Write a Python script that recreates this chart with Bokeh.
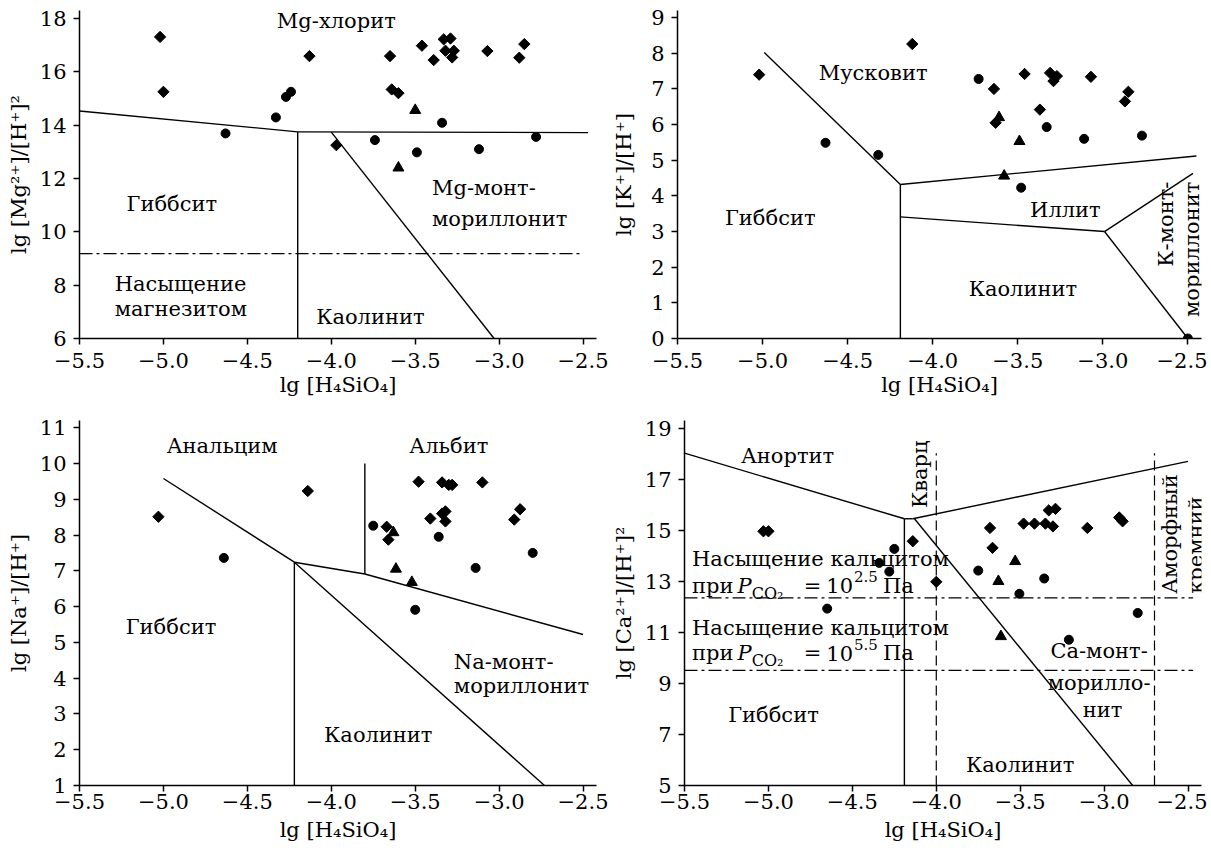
import math
from bokeh.plotting import figure
from bokeh.layouts import column, row
from bokeh.models import Range1d, FixedTicker, CustomJSTickFormatter, Label
from bokeh.embed import file_html
from bokeh.resources import INLINE

FONT = "DejaVu Serif"
FS = "21px"
X_TICKS = [-5.5, -5.0, -4.5, -4.0, -3.5, -3.0, -2.5]
X_LABEL = "lg [H₄SiO₄]"

# ---------------- Panel 1: Mg ----------------
mg_y_ticks = [6, 8, 10, 12, 14, 16, 18]
mg_dia_x = [-5.02, -5.00, -4.13, -3.65, -3.46, -3.39, -3.33, -3.29, -3.32, -3.27, -3.28, -3.07, -2.85, -2.88, -3.64, -3.60, -3.97]
mg_dia_y = [17.31, 15.25, 16.59, 16.59, 16.98, 16.44, 17.22, 17.25, 16.79, 16.79, 16.54, 16.78, 17.04, 16.53, 15.34, 15.20, 13.25]
mg_cir_x = [-4.63, -4.33, -4.27, -4.24, -3.34, -3.74, -3.49, -3.12, -2.78]
mg_cir_y = [13.69, 14.29, 15.06, 15.25, 14.09, 13.44, 12.98, 13.10, 13.56]
mg_tri_x = [-3.50, -3.60]
mg_tri_y = [14.56, 12.40]
mg_lines = [
    ([-5.5, -4.2], [14.53, 13.75]),
    ([-4.2, -2.47], [13.75, 13.72]),
    ([-4.2, -4.2], [6.0, 13.75]),
    ([-4.0, -3.03], [13.74, 6.0]),
]
mg_dashdot_y = [9.18]

# ---------------- Panel 2: K ----------------
k_y_ticks = [0, 1, 2, 3, 4, 5, 6, 7, 8, 9]
k_dia_x = [-5.02, -4.12, -3.64, -3.46, -3.31, -3.27, -3.29, -3.07, -2.85, -2.87, -3.37, -3.63]
k_dia_y = [7.40, 8.26, 7.00, 7.42, 7.45, 7.36, 7.22, 7.34, 6.92, 6.65, 6.42, 6.05]
k_cir_x = [-4.63, -4.32, -3.73, -3.33, -3.11, -2.77, -3.48, -2.50]
k_cir_y = [5.49, 5.15, 7.28, 5.93, 5.60, 5.69, 4.23, 0.00]
k_tri_x = [-3.61, -3.49, -3.58]
k_tri_y = [6.20, 5.53, 4.56]
k_lines = [
    ([-4.99, -4.19], [8.02, 4.32]),
    ([-4.19, -2.45], [4.32, 5.12]),
    ([-4.19, -4.19], [0.0, 4.32]),
    ([-4.19, -2.99], [3.41, 3.00]),
    ([-2.99, -2.47], [3.00, 4.63]),
    ([-2.99, -2.50], [3.00, 0.00]),
]

# ---------------- Panel 3: Na ----------------
na_y_ticks = [1, 2, 3, 4, 5, 6, 7, 8, 9, 10, 11]
na_dia_x = [-5.03, -4.14, -3.67, -3.66, -3.48, -3.41, -3.34, -3.30, -3.28, -3.34, -3.32, -3.32, -3.10, -2.91, -2.875]
na_dia_y = [8.51, 9.23, 8.23, 7.87, 9.49, 8.46, 9.47, 9.40, 9.40, 8.60, 8.66, 8.38, 9.47, 8.43, 8.72]
na_cir_x = [-4.64, -3.75, -3.36, -2.80, -3.14, -3.50]
na_cir_y = [7.36, 8.26, 7.95, 7.50, 7.08, 5.91]
na_tri_x = [-3.63, -3.615, -3.52]
na_tri_y = [8.07, 7.05, 6.68]
na_lines = [
    ([-5.0, -4.22], [9.58, 7.24]),
    ([-4.22, -4.22], [1.0, 7.24]),
    ([-4.22, -3.80], [7.24, 6.91]),
    ([-3.80, -3.80], [6.91, 10.0]),
    ([-3.80, -2.50], [6.91, 5.22]),
    ([-4.22, -2.73], [7.24, 1.0]),
]

# ---------------- Panel 4: Ca ----------------
ca_y_ticks = [5, 7, 9, 11, 13, 15, 17, 19]
ca_dia_x = [-5.03, -5.00, -4.14, -4.00, -3.68, -3.665, -3.48, -3.415, -3.35, -3.33, -3.29, -3.305, -3.10, -2.91, -2.89]
ca_dia_y = [14.96, 14.96, 14.57, 12.98, 15.09, 14.31, 15.26, 15.26, 15.26, 15.78, 15.84, 15.15, 15.09, 15.50, 15.35]
ca_cir_x = [-4.65, -4.34, -4.28, -4.25, -3.75, -3.505, -3.357, -2.80, -3.21]
ca_cir_y = [11.93, 13.72, 13.38, 14.27, 13.42, 12.51, 13.11, 11.76, 10.71]
ca_tri_x = [-3.63, -3.53, -3.615]
ca_tri_y = [13.00, 13.78, 10.84]
ca_lines = [
    ([-5.5, -4.19], [18.02, 15.45]),
    ([-4.19, -4.14], [15.45, 15.45]),
    ([-4.14, -2.50], [15.45, 17.70]),
    ([-4.19, -4.19], [5.0, 15.45]),
    ([-4.13, -2.83], [15.45, 5.0]),
]
ca_dashed_x = [-4.0, -2.7]
ca_dashed_y = [5.0, 18.02]
ca_dashdot_y = [12.35, 9.51]


def make_fig(w, h, yr, yticks, ylabel, mb, ylab_standoff=6, xstand=(8, 2)):
    p = figure(width=w, height=h, x_range=Range1d(-5.5, -2.42), y_range=Range1d(*yr),
               output_backend="svg", toolbar_location=None,
               min_border_left=mb[0], min_border_right=mb[1],
               min_border_top=mb[2], min_border_bottom=mb[3])
    p.grid.visible = False
    p.outline_line_color = None
    for ax in (p.xaxis[0], p.yaxis[0]):
        ax.axis_line_width = 1.5
        ax.axis_line_color = "black"
        ax.major_tick_line_width = 1.5
        ax.major_tick_line_color = "black"
        ax.major_tick_out = 6
        ax.major_tick_in = 0
        ax.minor_tick_out = 0
        ax.minor_tick_in = 0
        ax.major_label_text_font = FONT
        ax.major_label_text_font_size = FS
        ax.major_label_text_color = "black"
        ax.axis_label_text_font = FONT
        ax.axis_label_text_font_size = FS
        ax.axis_label_text_font_style = "normal"
        ax.axis_label_text_color = "black"
    p.xaxis.ticker = FixedTicker(ticks=X_TICKS)
    p.xaxis.formatter = CustomJSTickFormatter(code="return tick.toFixed(1).replace('-', '\u2212');")
    p.yaxis.ticker = FixedTicker(ticks=yticks)
    p.xaxis.major_label_standoff = xstand[0]
    p.xaxis.axis_label_standoff = xstand[1]
    p.yaxis.major_label_standoff = 7
    p.yaxis.axis_label_standoff = ylab_standoff
    p.xaxis.axis_label = X_LABEL
    p.yaxis.axis_label = ylabel
    return p


def points(p, dx, dy, cx, cy, tx, ty):
    p.scatter(dx, dy, marker="square", angle=math.pi / 4, size=8, color="black")
    p.scatter(cx, cy, marker="circle", size=9, color="black")
    p.scatter(tx, ty, marker="triangle", size=11, color="black")


def lines(p, segs):
    for xs, ys in segs:
        p.line(xs, ys, line_color="black", line_width=1.4)


def txt(p, x, y, s, align="center", baseline="middle", angle=0.0, size=FS, style="normal"):
    p.add_layout(Label(x=x, y=y, text=s, text_align=align, text_baseline=baseline, angle=angle,
                       text_font=FONT, text_font_size=size, text_font_style=style,
                       text_color="black"))


# layout: top row frames y 10..338, bottom row frames y 420..785 (page coords)
TOP_H = 408
BOT_H = 444

# Panel 1
p1 = make_fig(608, TOP_H, (6, 18.3), mg_y_ticks, "lg [Mg²⁺]/[H⁺]²", (79, 12, 10, 70))
lines(p1, mg_lines)
for yv in mg_dashdot_y:
    p1.line([-5.5, -2.5], [yv, yv], line_color="black", line_width=1.2, line_dash="13 4 3 4")
points(p1, mg_dia_x, mg_dia_y, mg_cir_x, mg_cir_y, mg_tri_x, mg_tri_y)
txt(p1, -3.97, 17.9, "Mg-хлорит")
txt(p1, -4.95, 11.05, "Гиббсит")
txt(p1, -5.29, 8.03, "Насыщение", align="left")
txt(p1, -5.29, 7.1, "магнезитом", align="left")
txt(p1, -4.09, 6.8, "Каолинит", align="left")
txt(p1, -3.40, 11.65, "Mg-монт-", align="left")
txt(p1, -3.40, 10.5, "мориллонит", align="left")

# Panel 2
p2 = make_fig(599, TOP_H, (0, 9.2), k_y_ticks, "lg [K⁺]/[H⁺]", (69, 6, 10, 70), ylab_standoff=12)
lines(p2, k_lines)
points(p2, k_dia_x, k_dia_y, k_cir_x, k_cir_y, k_tri_x, k_tri_y)
txt(p2, -4.35, 7.45, "Мусковит")
txt(p2, -4.955, 3.39, "Гиббсит")
txt(p2, -3.22, 3.6, "Иллит")
txt(p2, -3.47, 1.39, "Каолинит")
txt(p2, -2.63, 4.4, "К-монт-", align="right", angle=math.pi / 2)
txt(p2, -2.475, 4.4, "мориллонит", align="right", angle=math.pi / 2)

# Panel 3
p3 = make_fig(608, BOT_H, (1, 11.2), na_y_ticks, "lg [Na⁺]/[H⁺]", (79, 12, 12, 67), xstand=(2, 6))
lines(p3, na_lines)
points(p3, na_dia_x, na_dia_y, na_cir_x, na_cir_y, na_tri_x, na_tri_y)
txt(p3, -4.65, 10.49, "Анальцим")
txt(p3, -3.30, 10.49, "Альбит")
txt(p3, -4.955, 5.44, "Гиббсит")
txt(p3, -3.27, 4.44, "Na-монт-", align="left")
txt(p3, -3.27, 3.77, "мориллонит", align="left")
txt(p3, -3.72, 2.41, "Каолинит")

# Panel 4
p4 = make_fig(599, BOT_H, (5, 19.3), ca_y_ticks, "lg [Ca²⁺]/[H⁺]²", (69, 6, 12, 67), xstand=(2, 6))
lines(p4, ca_lines)
for xv in ca_dashed_x:
    p4.line([xv, xv], ca_dashed_y, line_color="black", line_width=1.2, line_dash="10 5")
for yv in ca_dashdot_y:
    p4.line([-5.5, -2.47], [yv, yv], line_color="black", line_width=1.2, line_dash="13 4 3 4")
points(p4, ca_dia_x, ca_dia_y, ca_cir_x, ca_cir_y, ca_tri_x, ca_tri_y)
txt(p4, -4.886, 17.92, "Анортит")
txt(p4, -4.10, 15.87, "Кварц", align="left", angle=math.pi / 2)
txt(p4, -2.61, 12.51, "Аморфный", align="left", angle=math.pi / 2)
txt(p4, -2.45, 12.51, "кремний", align="left", angle=math.pi / 2)
for (y_a, y_b, pw) in [(13.86, 12.82, "2.5"), (11.16, 10.18, "5.5")]:
    txt(p4, -5.455, y_a, "Насыщение  кальцитом", align="left", baseline="alphabetic")
    txt(p4, -5.455, y_b, "при", align="left", baseline="alphabetic")
    txt(p4, -5.185, y_b, "P", align="left", baseline="alphabetic", style="italic")
    txt(p4, -5.10, y_b - 0.30, "CO₂", align="left", baseline="alphabetic", size="16px")
    txt(p4, -4.79, y_b, "=", align="left", baseline="alphabetic")
    txt(p4, -4.655, y_b, "10", align="left", baseline="alphabetic")
    txt(p4, -4.49, y_b + 0.36, pw, align="left", baseline="alphabetic", size="15px")
    txt(p4, -4.318, y_b, "Па", align="left", baseline="alphabetic")
txt(p4, -3.03, 10.25, "Ca-монт-")
txt(p4, -3.03, 9.0, "морилло-")
txt(p4, -3.01, 7.94, "нит")
txt(p4, -4.97, 7.78, "Гиббсит")
txt(p4, -3.5, 5.82, "Каолинит")

layout = column(row(p1, p2), row(p3, p4))
open("out.html", "w").write(file_html(layout, INLINE))
